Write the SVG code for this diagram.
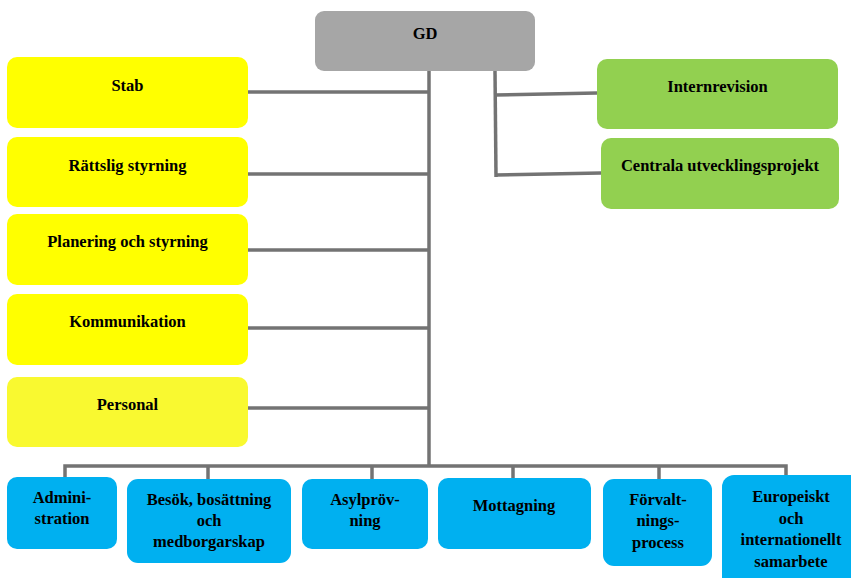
<svg xmlns="http://www.w3.org/2000/svg" width="851" height="578" viewBox="0 0 851 578">
<style>
.t{font-family:"Liberation Serif","Times New Roman",serif;font-weight:bold;font-size:16.5px;fill:#000;text-anchor:middle}
.gray{fill:#A6A6A6}
.yel{fill:#FFFF00}
.yel2{fill:#F9F930}
.grn{fill:#92D050}
.blu{fill:#00B0F0}
.c{stroke:#737373;stroke-width:3.5;fill:none}
</style>
<rect width="851" height="578" fill="#fff"/>
<g id="connectors">
<line class="c" x1="429" y1="71" x2="429" y2="467"/>
<line class="c" x1="248" y1="92" x2="429" y2="92"/>
<line class="c" x1="248" y1="174" x2="429" y2="174"/>
<line class="c" x1="248" y1="250" x2="429" y2="250"/>
<line class="c" x1="248" y1="328" x2="429" y2="328"/>
<line class="c" x1="248" y1="408" x2="429" y2="408"/>
<line class="c" x1="495" y1="71" x2="496" y2="177"/>
<line class="c" x1="495" y1="95" x2="597" y2="93"/>
<line class="c" x1="496" y1="175" x2="601" y2="173"/>
<polyline class="c" points="65,478 65,466 786,466 786,476"/>
<line class="c" x1="208" y1="466" x2="208" y2="479"/>
<line class="c" x1="372" y1="466" x2="372" y2="479"/>
<line class="c" x1="513" y1="466" x2="513" y2="478"/>
<line class="c" x1="659" y1="466" x2="659" y2="479"/>
</g>
<g id="gd"><rect class="gray" x="315" y="11" width="220" height="60" rx="9"/><text class="t" x="425" y="39">GD</text></g>
<g id="stab"><rect class="yel" x="7" y="57" width="241" height="71" rx="10"/><text class="t" x="127.5" y="91">Stab</text></g>
<g id="rattslig"><rect class="yel" x="7" y="137" width="241" height="70" rx="10"/><text class="t" x="127.5" y="171">Rättslig styrning</text></g>
<g id="planering"><rect class="yel" x="7" y="214" width="241" height="71" rx="10"/><text class="t" x="127.5" y="247">Planering och styrning</text></g>
<g id="kommunikation"><rect class="yel" x="7" y="294" width="241" height="71" rx="10"/><text class="t" x="127.5" y="327">Kommunikation</text></g>
<g id="personal"><rect class="yel2" x="7" y="377" width="241" height="70" rx="10"/><text class="t" x="127.5" y="410">Personal</text></g>
<g id="internrevision"><rect class="grn" x="597" y="59" width="241" height="70" rx="10"/><text class="t" x="717.5" y="92">Internrevision</text></g>
<g id="centrala"><rect class="grn" x="601" y="138" width="238" height="71" rx="10"/><text class="t" x="720" y="171">Centrala utvecklingsprojekt</text></g>
<g id="administration"><rect class="blu" x="7" y="477" width="110" height="72" rx="10"/><text class="t" x="62" y="503">Admini-</text><text class="t" x="62" y="524">stration</text></g>
<g id="besok"><rect class="blu" x="127" y="479" width="164" height="84" rx="11"/><text class="t" x="209" y="505">Besök, bosättning</text><text class="t" x="209" y="526">och</text><text class="t" x="209" y="547">medborgarskap</text></g>
<g id="asyl"><rect class="blu" x="302" y="479" width="126" height="70" rx="10"/><text class="t" x="365" y="505">Asylpröv-</text><text class="t" x="365" y="526">ning</text></g>
<g id="mottagning"><rect class="blu" x="438" y="478" width="153" height="71" rx="10"/><text class="t" x="514" y="511">Mottagning</text></g>
<g id="forvaltning"><rect class="blu" x="603" y="479" width="109" height="87" rx="11"/><text class="t" x="658" y="505">Förvalt-</text><text class="t" x="658" y="526">nings-</text><text class="t" x="658" y="548">process</text></g>
<g id="europeiskt"><rect class="blu" x="722" y="475" width="140" height="115" rx="12"/><text class="t" x="791" y="502">Europeiskt</text><text class="t" x="791" y="524">och</text><text class="t" x="791" y="545">internationellt</text><text class="t" x="791" y="567">samarbete</text></g>
</svg>
